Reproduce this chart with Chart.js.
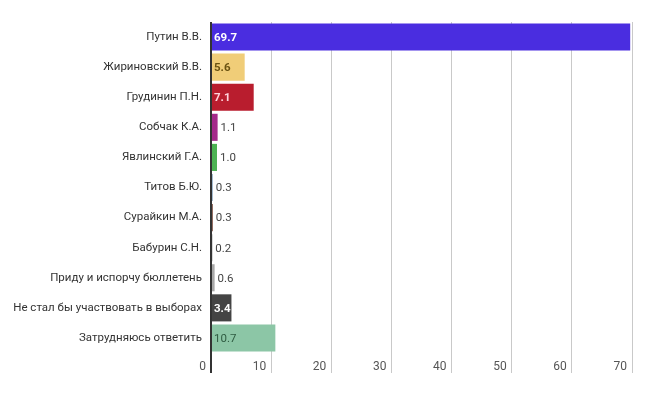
<!DOCTYPE html>
<html>
<head>
<meta charset="utf-8">
<script src="https://cdn.jsdelivr.net/npm/chart.js@4"></script>
<style>
  html, body { margin: 0; padding: 0; background: #fff; }
  #wrap { width: 655px; height: 413px; }
</style>
</head>
<body>
<div id="wrap"><canvas id="pollChart"></canvas></div>
<script>
// данные опроса
const categories = [
  "Путин В.В.", "Жириновский В.В.", "Грудинин П.Н.", "Собчак К.А.",
  "Явлинский Г.А.", "Титов Б.Ю.", "Сурайкин М.А.", "Бабурин С.Н.",
  "Приду и испорчу бюллетень", "Не стал бы участвовать в выборах", "Затрудняюсь ответить"
];
const values = [69.7, 5.6, 7.1, 1.1, 1.0, 0.3, 0.3, 0.2, 0.6, 3.4, 10.7];
const xTicks = [0, 10, 20, 30, 40, 50, 60, 70];

const barColors = [
  "#4a2de0", "#f0cd78", "#b91d2e", "#a4298a", "#4cb252", "#8faac4",
  "#7a4a3c", "#3a3a3a", "#a8a8a8", "#444444", "#8cc6a6"
];
// цвет подписи внутри столбца
const insideLabel = [
  ["#ffffff", "bold"], ["#6b5312", "bold"], ["#ffd4dc", "bold"], null, null, null,
  null, null, null, ["#ffffff", "bold"], ["#2f5c42", "normal"]
];

const valueLabels = {
  id: "valueLabels",
  afterDatasetsDraw(chart) {
    const ctx = chart.ctx;
    const meta = chart.getDatasetMeta(0);
    ctx.save();
    ctx.textBaseline = "middle";
    ctx.textAlign = "left";
    meta.data.forEach((bar, i) => {
      const txt = values[i].toFixed(1);
      const ins = insideLabel[i];
      if (ins) {
        ctx.fillStyle = ins[0];
        ctx.font = ins[1] + " 11.5px Roboto";
        ctx.fillText(txt, bar.base + 2, bar.y + 1);
      } else {
        ctx.fillStyle = "#444";
        ctx.font = "11.5px Roboto";
        ctx.fillText(txt, bar.x + 3, bar.y + 1);
      }
    });
    ctx.restore();
  }
};

new Chart(document.getElementById("pollChart"), {
  type: "bar",
  data: {
    labels: categories,
    datasets: [{
      data: values,
      backgroundColor: barColors,
      borderWidth: 0,
      barPercentage: 0.9,
      categoryPercentage: 1.0
    }]
  },
  options: {
    indexAxis: "y",
    responsive: true,
    maintainAspectRatio: false,
    animation: false,
    layout: { padding: { top: 22, right: 23, bottom: 0, left: 0 } },
    plugins: { legend: { display: false }, tooltip: { enabled: false } },
    scales: {
      x: {
        min: 0,
        max: 70,
        afterBuildTicks(scale) { scale.ticks = xTicks.map(v => ({ value: v })); },
        afterFit(scale) { scale.height = 60; },
        border: { display: false },
        grid: {
          color: c => c.tick && c.tick.value === 0 ? "#333" : "#c9c9c9",
          lineWidth: c => c.tick && c.tick.value === 0 ? 2 : 1,
          tickLength: 20
        },
        ticks: {
          align: "end",
          labelOffset: -5,
          padding: -13,
          color: "#555",
          font: { family: "Roboto", size: 12 }
        }
      },
      y: {
        afterFit(scale) { scale.width = 211; },
        border: { display: false },
        grid: { display: false, drawTicks: false },
        ticks: {
          padding: 9,
          color: "#333",
          font: { family: "Roboto", size: 11.5 }
        }
      }
    }
  },
  plugins: [valueLabels]
});
</script>
</body>
</html>
